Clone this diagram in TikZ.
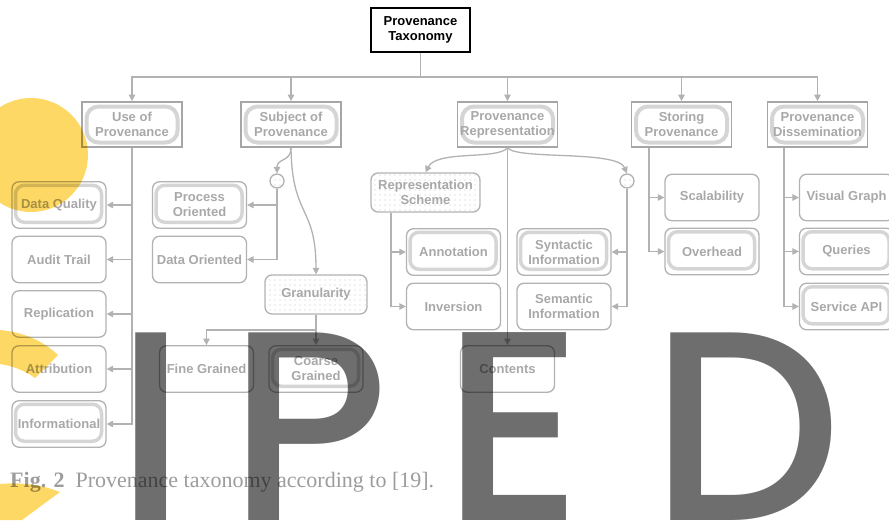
\documentclass[tikz,border=0pt]{standalone}
\usepackage{fontspec}
\setmainfont{Liberation Sans}
\newfontfamily\capfont{Liberation Serif}
\newfontfamily\wmfont{Poppins Medium}
\usetikzlibrary{arrows.meta,patterns,calc}

\definecolor{lineC}{HTML}{B2B2B2}
\definecolor{edgeC}{HTML}{A6A6A6}
\definecolor{txtC}{HTML}{A8A8A8}
\definecolor{innerC}{HTML}{D5D5D5}
\definecolor{dotC}{HTML}{C4C4C4}
\definecolor{sunC}{HTML}{FDD865}
\definecolor{capC}{HTML}{9C9C9C}

% sparse dot pattern for the shaded boxes
\pgfdeclarepatternformonly{sparsedots}{\pgfqpoint{-1pt}{-1pt}}{\pgfqpoint{5pt}{5pt}}{\pgfqpoint{5pt}{5pt}}{%
  \pgfpathcircle{\pgfqpoint{0pt}{0pt}}{0.6pt}\pgfusepath{fill}}

\tikzset{
  boxfont/.style={font=\fontsize{13}{15}\selectfont\bfseries},
  leaf/.style={boxfont, rounded corners=7pt, draw=lineC, line width=1.3pt,
    minimum width=94pt, minimum height=46.5pt, inner sep=0pt, align=center, text=txtC},
  leafdbl/.style={leaf, path picture={
    \draw[innerC, line width=3.5pt, rounded corners=9pt]
      ([shift={(3.5pt,6pt)}]path picture bounding box.south west) rectangle
      ([shift={(-4.5pt,-3.5pt)}]path picture bounding box.north east);}},
  category/.style={boxfont, draw=edgeC, line width=1.8pt,
    minimum width=100pt, minimum height=45pt, inner sep=0pt, align=center, text=txtC,
    path picture={
    \draw[innerC, line width=4pt, rounded corners=12pt]
      ([shift={(4.5pt,4.5pt)}]path picture bounding box.south west) rectangle
      ([shift={(-4.5pt,-4.5pt)}]path picture bounding box.north east);}},
  dotbox/.style={boxfont, rounded corners=7pt, draw=lineC, line width=1.3pt,
    pattern=sparsedots, pattern color=dotC, inner sep=0pt, align=center, text=txtC},
  junction/.style={circle, draw=lineC, line width=1.3pt, minimum size=14pt, inner sep=0pt,
    pattern=sparsedots, pattern color=dotC},
  rootbox/.style={boxfont, draw=black, line width=2pt, minimum width=99pt,
    minimum height=44pt, inner sep=0pt, align=center, text=black},
  link/.style={draw=lineC, line width=1.3pt},
  arr/.style={link, -{Triangle[length=6.5pt,width=6.5pt]}},
  bigletter/.style={anchor=base west, inner sep=0pt, text=black, text opacity=0.57,
    font=\wmfont\fontsize{270}{270}\selectfont},
}

\begin{document}
\begin{tikzpicture}[x=1pt,y=-1pt]
\useasboundingbox (0,0) rectangle (889,520);

% ---- root and first level
\node[rootbox] (root) at (420.5,30) {Provenance\\Taxonomy};
\node[category] (use)   at (132,124.5)   {Use of\\Provenance};
\node[category] (subj)  at (291,124.5)   {Subject of\\Provenance};
\node[category] (rep)   at (507.5,124.5) {Provenance\\Representation};
\node[category] (store) at (681.5,124.5) {Storing\\Provenance};
\node[category] (diss)  at (817.5,124.5) {Provenance\\Dissemination};

\coordinate (bus) at (420.5,77);
\draw[link] (root.south) -- (bus);
\foreach \t in {use,subj,rep,store,diss}
  \draw[arr] (bus) -| (\t.north);

% ---- use of provenance
\node[leafdbl] (dq)   at (59,205)   {Data Quality};
\node[leaf]    (at)   at (59,259.5) {Audit Trail};
\node[leaf]    (repl) at (59,314)   {Replication};
\node[leaf]    (attr) at (59,369)   {Attribution};
\node[leafdbl] (info) at (59,424)   {Informational};
\foreach \t in {dq,at,repl,attr,info}
  \draw[arr] (use.south) |- (\t.east);

% ---- subject of provenance
\node[junction] (c1) at (277,181) {};
\node[leafdbl] (po) at (199.5,205)   {Process\\Oriented};
\node[leaf]    (do) at (199.5,259.5) {Data Oriented};
\node[dotbox, minimum width=102pt, minimum height=39pt] (gran) at (316,294.5) {Granularity};
\node[leaf]    (fg) at (206.5,369) {Fine Grained};
\node[leafdbl] (cg) at (316,369)   {Coarse\\Grained};

\draw[arr] (subj.south) .. controls (291,162) and (277,158) .. (c1.north);
\draw[arr] (subj.south) .. controls (292,218) and (316,205) .. (gran.north);
\draw[arr] (c1.south) |- (po.east);
\draw[arr] (c1.south) |- (do.east);
\coordinate (gsplit) at (316,330);
\draw[arr] (gran.south) -- (cg.north);
\draw[arr] (gsplit) -| (fg.north);

% ---- provenance representation
\node[dotbox, minimum width=109pt, minimum height=39pt] (rs) at (425.5,192.5) {Representation\\Scheme};
\node[junction] (c2) at (627,181) {};
\node[leafdbl] (ann)  at (453.5,252)   {Annotation};
\node[leaf]    (inv)  at (453.5,306.5) {Inversion};
\node[leafdbl] (syn)  at (564,252)     {Syntactic\\Information};
\node[leaf]    (sem)  at (564,306.5)   {Semantic\\Information};
\node[leaf]    (cont) at (507.5,369)   {Contents};

\draw[arr] (rep.south) .. controls (497,160) and (437,150) .. (rs.north);
\draw[arr] (rep.south) .. controls (518,160) and (617,150) .. (c2.north);
\draw[arr] (rep.south) -- (cont.north);
\draw[arr] ([xshift=-34.5pt]rs.south) |- (ann.west);
\draw[arr] ([xshift=-34.5pt]rs.south) |- (inv.west);
\draw[arr] (c2.south) |- (syn.east);
\draw[arr] (c2.south) |- (sem.east);

% ---- storing provenance
\node[leaf]    (scal) at (712,197.5) {Scalability};
\node[leafdbl] (over) at (712,251.5) {Overhead};
\draw[arr] ([xshift=-32.5pt]store.south) |- (scal.west);
\draw[arr] ([xshift=-32.5pt]store.south) |- (over.west);

% ---- provenance dissemination
\node[leaf]    (vg)  at (846.5,197.5) {Visual Graph};
\node[leafdbl] (qu)  at (846.5,251.5) {Queries};
\node[leafdbl] (api) at (846.5,306.5) {Service API};
\foreach \t in {vg,qu,api}
  \draw[arr] ([xshift=-33.5pt]diss.south) |- (\t.west);

% ---- caption
\node[anchor=base west, inner sep=0pt, text=capC,
      font=\capfont\fontsize{22}{22}\selectfont] (cap) at (10,487)
  {\textbf{Fig. 2}\hspace{11pt}Provenance taxonomy according to [19].};

% ---- yellow discs and arcs
\begin{scope}[blend mode=multiply]
  \fill[sunC] (31,155) circle (57pt);
  \fill[sunC] (0,330) .. controls (22,332) and (42,340) .. (58,355) -- (35,378)
     .. controls (24,370) and (12,366) .. (0,364) -- cycle;
  \fill[sunC] (0,484) .. controls (22,482) and (42,485) .. (60,492) -- (22,520) -- (0,520) -- cycle;
\end{scope}

% ---- large lettering
\node[bigletter] (lI) at (115,520) {I};
\node[bigletter] (lP) at (228,520) {P};
\node[bigletter] (lE) at (442,520) {E};
\node[bigletter] (lD) at (650,520) {D};
\end{tikzpicture}
\end{document}
